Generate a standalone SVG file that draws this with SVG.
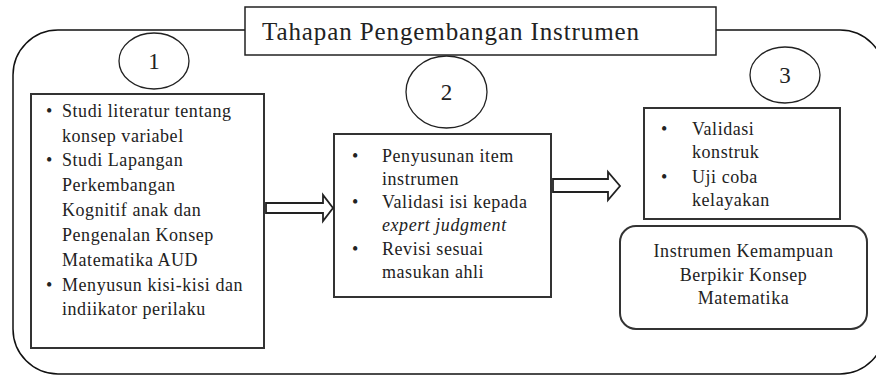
<svg xmlns="http://www.w3.org/2000/svg" width="876" height="375" viewBox="0 0 876 375">
<style>
.frame{fill:none;stroke:#111;stroke-width:1.5}
.box{fill:#fff;stroke:#333;stroke-width:2}
.oval{fill:#fff;stroke:#222;stroke-width:1.3}
.arrow{fill:#fff;stroke:#222;stroke-width:1.8;stroke-linejoin:miter}
text{font-family:"Liberation Serif","Times New Roman",serif;fill:#222}
.t{font-size:18px;letter-spacing:0.55px}
.num{font-size:23px;text-anchor:middle}
.title{font-size:25px;letter-spacing:0.9px}
.c{text-anchor:middle}
</style>
<rect class="frame" x="13" y="30" width="872" height="344" rx="45" ry="45"/>
<g id="title">
<rect x="245" y="7" width="471" height="48" fill="#fff" stroke="#222" stroke-width="1.5"/>
<text class="title" x="262" y="40">Tahapan Pengembangan Instrumen</text>
</g>
<g id="step1">
<ellipse class="oval" cx="154" cy="61" rx="35" ry="28"/>
<text class="num" x="154" y="69">1</text>
</g>
<g id="step2">
<ellipse class="oval" cx="446.5" cy="92" rx="40.5" ry="36"/>
<text class="num" x="446.5" y="100">2</text>
</g>
<g id="step3">
<ellipse class="oval" cx="785" cy="75" rx="35" ry="28"/>
<text class="num" x="785" y="83">3</text>
</g>
<g id="box1">
<rect class="box" x="31" y="94" width="233" height="254"/>
<g class="t">
<text x="46" y="117">•</text><text x="62" y="117">Studi literatur tentang</text>
<text x="62" y="142">konsep variabel</text>
<text x="46" y="166">•</text><text x="62" y="166">Studi Lapangan</text>
<text x="62" y="191">Perkembangan</text>
<text x="62" y="216">Kognitif anak dan</text>
<text x="62" y="241">Pengenalan Konsep</text>
<text x="62" y="266">Matematika AUD</text>
<text x="46" y="291">•</text><text x="62" y="291">Menyusun kisi-kisi dan</text>
<text x="62" y="315">indiikator perilaku</text>
</g>
</g>
<g id="box2">
<rect class="box" x="334" y="134" width="217" height="163"/>
<g class="t">
<text x="352" y="162">•</text><text x="382" y="162">Penyusunan item</text>
<text x="382" y="185">instrumen</text>
<text x="352" y="208">•</text><text x="382" y="208">Validasi isi kepada</text>
<text x="382" y="231" font-style="italic">expert judgment</text>
<text x="352" y="255">•</text><text x="382" y="255">Revisi sesuai</text>
<text x="382" y="278">masukan ahli</text>
</g>
</g>
<g id="box3">
<rect class="box" x="644" y="108" width="196" height="111"/>
<g class="t">
<text x="661" y="135">•</text><text x="692" y="135">Validasi</text>
<text x="692" y="158">konstruk</text>
<text x="661" y="183">•</text><text x="692" y="183">Uji coba</text>
<text x="692" y="206">kelayakan</text>
</g>
</g>
<g id="result">
<rect class="box" x="620" y="226" width="247" height="103" rx="16" ry="16"/>
<g class="t c">
<text x="743.5" y="257">Instrumen Kemampuan</text>
<text x="743.5" y="281">Berpikir Konsep</text>
<text x="743.5" y="304">Matematika</text>
</g>
</g>
<g id="connectors">
<polygon class="arrow" points="266,203 323,203 323,195 333,208 323,221 323,213 266,213"/>
<polygon class="arrow" points="553,179 608,179 608,172 620,186 608,200 608,192 553,192"/>
</g>
</svg>
